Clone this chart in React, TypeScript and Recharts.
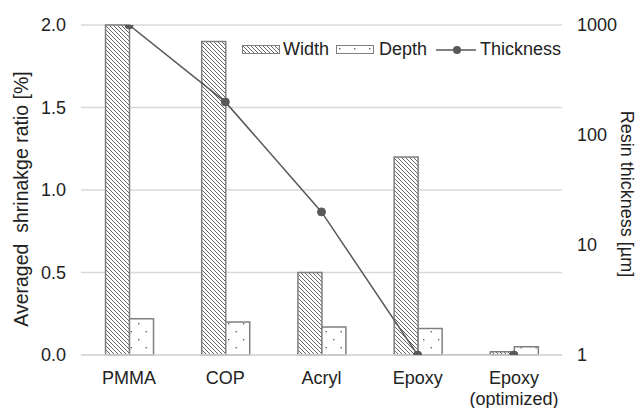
import React from 'react';
import {
  ComposedChart,
  Bar,
  Line,
  XAxis,
  YAxis,
  CartesianGrid,
} from 'recharts';

const materials = ['PMMA', 'COP', 'Acryl', 'Epoxy', 'Epoxy\n(optimized)'];
const widthShrink = [2.0, 1.9, 0.5, 1.2, 0.02];
const depthShrink = [0.22, 0.2, 0.17, 0.16, 0.05];
const thickness = [1000, 200, 20, 1, 1];
const leftTicks = [0, 0.5, 1.0, 1.5, 2.0];
const rightTicks = [1, 10, 100, 1000];

const data = materials.map((name, i) => ({
  name,
  width: widthShrink[i],
  depth: depthShrink[i],
  thickness: thickness[i],
}));

const FONT = '"Liberation Sans", Arial, sans-serif';
const TEXT = '#222';
const GREY = '#7f7f7f';
const LINE = '#595959';
const FS = 18;

const CategoryTick = (props: any) => {
  const { x, y, payload } = props;
  const lines = String(payload.value).split('\n');
  return (
    <g transform={`translate(${x},${y})`}>
      {lines.map((l: string, i: number) => (
        <text
          key={i}
          x={0}
          y={15 + i * 21}
          textAnchor="middle"
          dominantBaseline="central"
          fontSize={FS}
          fontFamily={FONT}
          fill={TEXT}
        >
          {l}
        </text>
      ))}
    </g>
  );
};

const LeftLabel = () => (
  <text
    transform="translate(21,199) rotate(-90)"
    textAnchor="middle"
    dominantBaseline="central"
    fontSize={19.5}
    fontFamily={FONT}
    fill={TEXT}
    style={{ whiteSpace: 'pre' }}
  >
    {'Averaged\u00A0 shrinakge ratio [%]'}
  </text>
);

const RightLabel = () => (
  <text
    transform="translate(627,194) rotate(90)"
    textAnchor="middle"
    dominantBaseline="central"
    fontSize={FS}
    fontFamily={FONT}
    fill={TEXT}
  >
    Resin thickness [µm]
  </text>
);

const LegendBox = () => (
  <div
    style={{
      position: 'absolute',
      left: 242,
      top: 39,
      display: 'flex',
      alignItems: 'center',
      fontFamily: FONT,
      fontSize: FS,
      color: TEXT,
      whiteSpace: 'nowrap',
    }}
  >
    <svg width={38} height={10} style={{ marginRight: 3 }}>
      <rect x={0.5} y={0.5} width={37} height={8} fill="url(#hatchW)" stroke={GREY} />
    </svg>
    <span style={{ marginRight: 7 }}>Width</span>
    <svg width={38} height={10} style={{ marginRight: 5 }}>
      <rect x={0.5} y={0.5} width={37} height={8} fill="url(#dotsD)" stroke={GREY} />
    </svg>
    <span style={{ marginRight: 9 }}>Depth</span>
    <svg width={40} height={12} style={{ marginRight: 4 }}>
      <line x1={0} y1={6} x2={40} y2={6} stroke={LINE} strokeWidth={1.5} />
      <circle cx={21} cy={6} r={4} fill={LINE} />
    </svg>
    <span>Thickness</span>
  </div>
);

export default function App() {
  return (
    <div style={{ position: 'absolute', left: 0, top: 0, width: 639, height: 408, background: '#fff' }}>
      <svg width={0} height={0} style={{ position: 'absolute' }}>
        <defs>
          <pattern id="hatchW" patternUnits="userSpaceOnUse" width={4} height={4}>
            <rect width={4} height={4} fill="#fff" />
            <path d="M-1,-1 L5,5 M-1,3 L1,5 M3,-1 L5,1" stroke="#666" strokeWidth={1} />
          </pattern>
          <pattern id="dotsD" patternUnits="userSpaceOnUse" width={15} height={16}>
            <rect width={15} height={16} fill="#fff" />
            <rect x={3} y={3} width={1.4} height={1.4} fill="#666" />
            <rect x={10.5} y={11} width={1.4} height={1.4} fill="#666" />
          </pattern>
        </defs>
      </svg>
      <svg width={639} height={408} style={{ position: 'absolute', left: 0, top: 0, pointerEvents: 'none' }}>
        <LeftLabel />
        <RightLabel />
      </svg>
      <ComposedChart
        width={639}
        height={408}
        data={data}
        margin={{ top: 25, right: 17, bottom: 0, left: 21 }}
        barCategoryGap="25.5%"
        barGap={0}
      >
        <CartesianGrid yAxisId="left" vertical={false} stroke="#d9d9d9" strokeWidth={1.5} />
        <XAxis
          dataKey="name"
          height={53}
          axisLine={{ stroke: '#d9d9d9', strokeWidth: 1.5 }}
          tickLine={false}
          tick={<CategoryTick />}
          interval={0}
        />
        <YAxis
          yAxisId="left"
          width={60}
          domain={[0, 2]}
          ticks={leftTicks}
          tickFormatter={(v: number) => v.toFixed(1)}
          axisLine={false}
          tickLine={false}
          tickSize={0}
          tickMargin={15}
          tick={{ fontSize: FS, fontFamily: FONT, fill: TEXT }}
        />
        <YAxis
          yAxisId="right"
          orientation="right"
          width={60}
          scale="log"
          domain={[1, 1000]}
          ticks={rightTicks}
          allowDataOverflow
          axisLine={false}
          tickLine={false}
          tickSize={0}
          tickMargin={15}
          tick={{ fontSize: FS, fontFamily: FONT, fill: TEXT, textAnchor: 'start' }}
        />
        <Bar
          yAxisId="left"
          dataKey="width"
          fill="url(#hatchW)"
          stroke={GREY}
          strokeWidth={1.5}
          isAnimationActive={false}
        />
        <Bar
          yAxisId="left"
          dataKey="depth"
          fill="url(#dotsD)"
          stroke={GREY}
          strokeWidth={1.5}
          isAnimationActive={false}
        />
        <Line
          yAxisId="right"
          dataKey="thickness"
          stroke={LINE}
          strokeWidth={1.5}
          dot={{ r: 4, fill: LINE, stroke: LINE, strokeWidth: 1 }}
          activeDot={false}
          isAnimationActive={false}
        />
      </ComposedChart>
      <LegendBox />
    </div>
  );
}
